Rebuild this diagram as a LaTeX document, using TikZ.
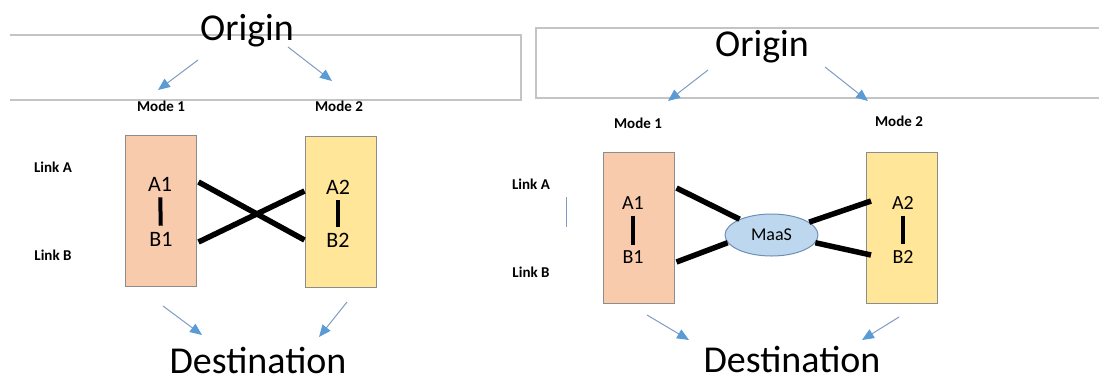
\documentclass[tikz,border=0pt]{standalone}
\usepackage{fontspec}
\setmainfont{Carlito}
\usetikzlibrary{arrows.meta,shapes.geometric,positioning,calc}

\definecolor{peach}{HTML}{F8CBAD}
\definecolor{gold}{HTML}{FFE699}
\definecolor{maasfill}{HTML}{BDD7EE}
\definecolor{maasline}{HTML}{6F8FB4}
\definecolor{boxline}{HTML}{8C8C8C}
\definecolor{arrline}{HTML}{7F9CC0}
\definecolor{arrhead}{HTML}{5B9BD5}
\definecolor{frame}{HTML}{C4C4C4}

\begin{document}
\begin{tikzpicture}[x=1pt,y=-1pt,
    title/.style={font=\fontsize{38}{40}\selectfont,anchor=base,inner sep=0pt},
    tag/.style={font=\bfseries\fontsize{15}{17}\selectfont,anchor=base},
    cell/.style={font=\fontsize{22}{24}\selectfont,inner xsep=3pt,inner ysep=6pt},
    modebox/.style={draw=boxline,line width=1pt,minimum width=71pt,minimum height=151pt},
    flow/.style={draw=arrline,line width=1pt,-{Triangle[length=12pt,width=10pt,color=arrhead]}},
    link/.style={line width=5.5pt},
    bar/.style={line width=4pt},
    frameline/.style={draw=frame,line width=1.2pt}]
\useasboundingbox (0,0) rectangle (1099,378);

% left: two modes, links crossed
\draw[frameline] (10,35) -- (521,35) -- (521,100) -- (10,100);
\node[title] (originL) at (247,40) {Origin};
\node[tag] (mode1L) at (161,111) {Mode 1};
\node[tag] (mode2L) at (339,111) {Mode 2};
\node[tag] (linkAL) at (53,172) {Link A};
\node[tag] (linkBL) at (53,260) {Link B};
\node[modebox,fill=peach] (boxL1) at (160.5,211) {};
\node[modebox,fill=gold] (boxL2) at (340.5,211.5) {};
\node[cell] (a1L) at (160,184) {A1};
\node[cell] (b1L) at (161,239) {B1};
\node[cell] (a2L) at (338,187) {A2};
\node[cell] (b2L) at (338,240) {B2};
\draw[bar] (a1L) -- (b1L);
\draw[bar] (a2L) -- (b2L);
\draw[link] ($(boxL1.east)+(2,-29)$) -- ($(boxL2.west)+(0,28.5)$);
\draw[link] ($(boxL1.east)+(2,31)$) -- ($(boxL2.west)+(0,-20.5)$);
\node[title] (destL) at (258,373) {Destination};
\coordinate (oL1) at (198,60);   \coordinate (mL1) at (158,90);
\coordinate (oL2) at (288,47);   \coordinate (mL2) at (332,81);
\coordinate (bL1) at (163,306);  \coordinate (dL1) at (202,335);
\coordinate (bL2) at (347,302);  \coordinate (dL2) at (319,337);
\draw[flow] (oL1) -- (mL1);
\draw[flow] (oL2) -- (mL2);
\draw[flow] (bL1) -- (dL1);
\draw[flow] (bL2) -- (dL2);

% right: both modes joined through MaaS
\draw[frameline] (1099,28) -- (536,28) -- (536,98) -- (1099,98);
\node[title] (originR) at (762,56) {Origin};
\node[tag] (mode1R) at (638,128) {Mode 1};
\node[tag] (mode2R) at (899,126) {Mode 2};
\node[tag] (linkAR) at (531,189) {Link A};
\node[tag] (linkBR) at (531,277) {Link B};
\draw[arrline,line width=1pt] (566,197) -- (566,227);
\node[modebox,fill=peach] (boxR1) at (638.5,228) {};
\node[modebox,fill=gold] (boxR2) at (902,228) {};
\node[cell,font=\fontsize{20}{22}\selectfont] (a1R) at (633,203) {A1};
\node[cell,font=\fontsize{20}{22}\selectfont] (b1R) at (633,257.5) {B1};
\node[cell,font=\fontsize{20}{22}\selectfont] (a2R) at (903,203) {A2};
\node[cell,font=\fontsize{20}{22}\selectfont] (b2R) at (903,257) {B2};
\draw[bar] (a1R) -- (b1R);
\draw[bar] (a2R) -- (b2R);
\node[ellipse,draw=maasline,line width=1pt,fill=maasfill,minimum width=93pt,minimum height=42pt,inner sep=0pt,
      font=\fontsize{18}{20}\selectfont] (maas) at (771.5,235) {MaaS};
\draw[link] ($(boxR1.east)+(2,-40)$) -- (maas);
\draw[link] ($(boxR1.east)+(2,34)$) -- (maas.190);
\draw[link] (maas) -- ($(boxR2.west)+(5,-27)$);
\draw[link] (maas.350) -- ($(boxR2.west)+(5,27)$);
\node[title] (destR) at (792,372) {Destination};
\coordinate (oR1) at (708,70);   \coordinate (mR1) at (668,101);
\coordinate (oR2) at (825,67);   \coordinate (mR2) at (868,101);
\coordinate (bR1) at (647,315);  \coordinate (dR1) at (689,340);
\coordinate (bR2) at (899,317);  \coordinate (dR2) at (862,340);
\draw[flow] (oR1) -- (mR1);
\draw[flow] (oR2) -- (mR2);
\draw[flow] (bR1) -- (dR1);
\draw[flow] (bR2) -- (dR2);
\end{tikzpicture}
\end{document}
